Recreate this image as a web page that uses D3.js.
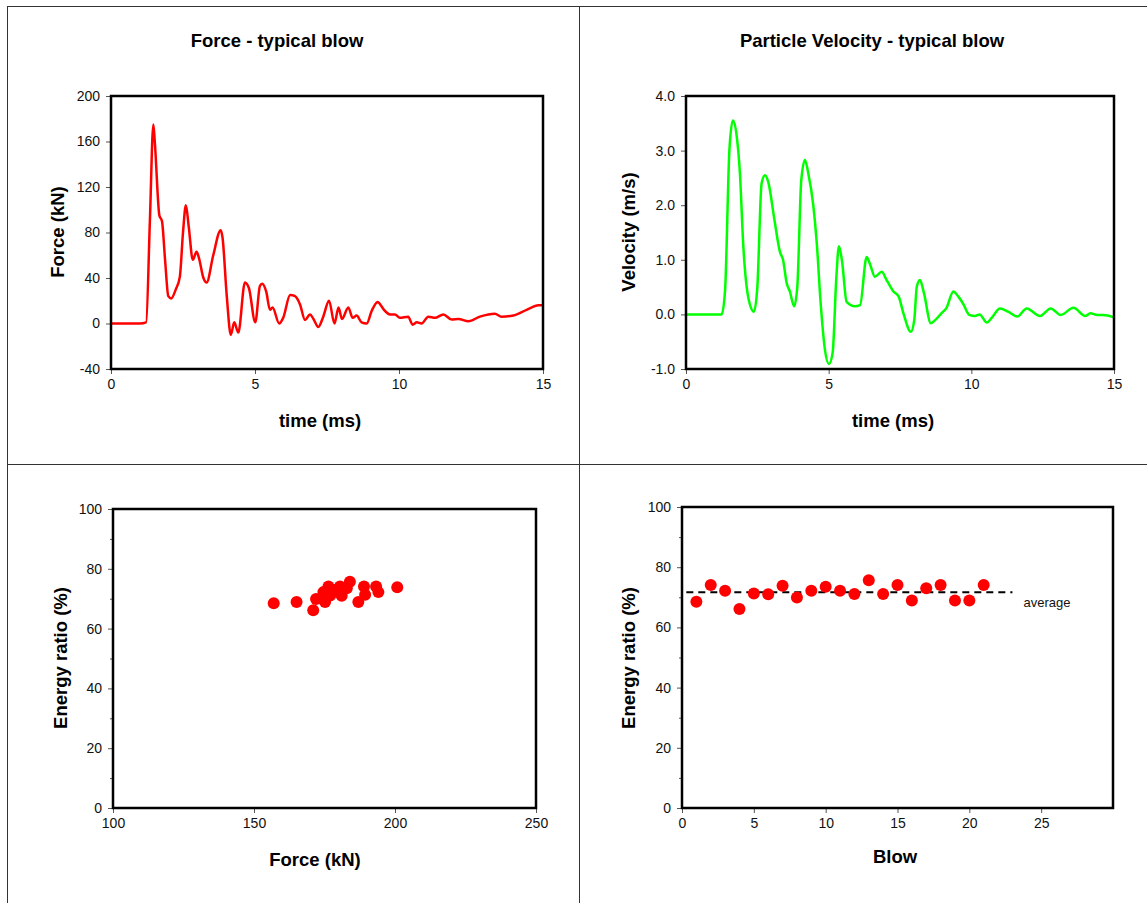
<!DOCTYPE html>
<html>
<head>
<meta charset="utf-8">
<script src="https://cdn.jsdelivr.net/npm/d3@7"></script>
<style>
body { margin: 0; background: #fff; }
text { font-family: "Liberation Sans", Arial, sans-serif; }
</style>
</head>
<body>
<script>
var width = 1147;
var height = 903;

// force - typical blow
var forceTime = [0,0.5,1.0,1.22,1.35,1.47,1.52,1.68,1.77,1.88,1.99,2.09,2.25,2.39,2.5,2.6,2.7,2.84,2.97,3.05,3.21,3.32,3.55,3.81,3.87,4.02,4.16,4.28,4.42,4.65,4.79,5.01,5.17,5.25,5.39,5.52,5.61,5.84,5.98,6.22,6.39,6.56,6.74,6.91,7.03,7.2,7.37,7.57,7.76,7.9,8.02,8.24,8.39,8.53,8.7,8.88,9.05,9.26,9.34,9.48,9.69,9.86,10.03,10.32,10.47,10.62,10.78,11.02,11.25,11.54,11.83,12.06,12.41,12.81,13.33,13.56,13.97,14.43,14.84,15];
var forceKN = [0,0,0,1,90,175,160,95,90,55,24,22,30,41,80,104,85,56,63,58,40,36,60,82,76,24,-10,1,-8,36,31,1,33,35,28,12,14,0,5,25,24,17,3,8,4,-3,6,20,0,14,4,14,5,7,1,0,11,19,17,12,8,8,5,6,-1,1,0,6,5,8,3.5,4,2,6,8.5,6,7,12,16,16];

// particle velocity - typical blow
var velTime = [0,0.6,1.25,1.37,1.52,1.64,1.78,1.89,2.01,2.18,2.38,2.5,2.65,2.77,2.88,3.1,3.29,3.4,3.53,3.64,3.79,3.9,4.04,4.17,4.28,4.46,4.58,4.72,4.87,5.01,5.14,5.27,5.36,5.47,5.63,5.92,6.1,6.33,6.45,6.62,6.86,7.03,7.27,7.45,7.62,7.88,8.0,8.09,8.2,8.34,8.58,8.74,8.95,9.13,9.37,9.54,9.72,9.93,10.13,10.29,10.54,10.72,11.0,11.29,11.61,11.94,12.41,12.78,13.13,13.58,13.99,14.17,14.42,14.63,14.98];
var velMS = [0,0,0,0.45,3.0,3.55,3.25,2.58,1.24,0.32,0.05,0.5,2.4,2.55,2.43,1.73,1.15,1.0,0.57,0.42,0.15,0.5,2.46,2.83,2.6,2.0,1.33,0.2,-0.65,-0.91,-0.7,0.69,1.25,0.97,0.23,0.15,0.17,1.05,0.92,0.69,0.78,0.63,0.42,0.33,0.02,-0.32,-0.1,0.51,0.63,0.39,-0.16,-0.1,0.02,0.12,0.42,0.33,0.19,-0.01,-0.03,0,-0.15,-0.06,0.11,0.05,-0.04,0.11,-0.03,0.11,-0.01,0.12,-0.03,0.02,-0.01,-0.01,-0.05];

// per blow results
var blows = [1,2,3,4,5,6,7,8,9,10,11,12,13,14,15,16,17,18,19,20,21];
var energyRatio = [68.5,74.1,72.2,66.1,71.3,71.0,73.8,69.9,72.2,73.5,72.2,71.1,75.7,71.1,74.1,68.9,73.0,74.1,68.9,68.9,74.1];
var blowForce = [157,176.4,194.1,171,189.4,181.1,200.8,172,178.1,182.9,174.6,175.5,184,177,189,165.1,179,193.3,175.2,187,180.5];

var forceTicks = [-40,0,40,80,120,160,200];
var velTicks = [-1,0,1,2,3,4];
var timeTicks = [0,5,10,15];
var energyTicks = [0,20,40,60,80,100];
var forceAxisTicks = [100,150,200,250];
var blowTicks = [0,5,10,15,20,25];

var svg = d3.select("body")
    .append("svg")
    .attr("width", width)
    .attr("height", height);

svg.append("rect")
    .attr("width", width)
    .attr("height", height)
    .attr("fill", "#fff");

// outer frame and dividers
var frame = svg.append("g")
    .attr("stroke", "#333")
    .attr("stroke-width", 1)
    .attr("fill", "none");
frame.append("rect").attr("x", 7.5).attr("y", 6.5).attr("width", 1160).attr("height", 920);
frame.append("line").attr("x1", 579.5).attr("x2", 579.5).attr("y1", 6).attr("y2", 903);
frame.append("line").attr("x1", 7).attr("x2", 1147).attr("y1", 464.5).attr("y2", 464.5);

// excel style numbers: plain hyphen for negatives
function numFmt(spec) {
    var f = d3.format(spec);
    return function(d) { return f(d).replace("\u2212", "-"); };
}

function creaPannello(box, xDom, yDom, xTicks, yTicks, yFmt, minor) {
    var x = d3.scaleLinear().domain(xDom).range([box.x0, box.x1]);
    var y = d3.scaleLinear().domain(yDom).range([box.y1, box.y0]);
    var g = svg.append("g");

    g.append("g")
        .attr("transform", "translate(0," + box.y1 + ")")
        .call(d3.axisBottom(x).tickValues(xTicks).tickSize(5).tickPadding(5).tickFormat(numFmt("d")));
    g.append("g")
        .attr("transform", "translate(" + box.x0 + ",0)")
        .call(d3.axisLeft(y).tickValues(yTicks).tickSize(5).tickPadding(6).tickFormat(yFmt));

    if (minor) {
        g.append("g")
            .attr("transform", "translate(" + box.x0 + ",0)")
            .call(d3.axisLeft(y).tickValues(minor).tickSize(3).tickFormat(""));
    }

    g.selectAll(".domain").remove();
    g.selectAll(".tick line").attr("stroke", "#555").attr("stroke-width", 1);
    g.selectAll(".tick text")
        .attr("font-size", 14)
        .attr("fill", "#111")
        .style("font-family", "'Liberation Sans', Arial, sans-serif");

    g.append("rect")
        .attr("x", box.x0)
        .attr("y", box.y0)
        .attr("width", box.x1 - box.x0)
        .attr("height", box.y1 - box.y0)
        .attr("fill", "none")
        .attr("stroke", "#000")
        .attr("stroke-width", 2.5);

    return {x: x, y: y, g: g};
}

function etichetta(testo, x, y, ruota) {
    var t = svg.append("text")
        .attr("x", x)
        .attr("y", y)
        .attr("text-anchor", "middle")
        .attr("font-size", 18.5)
        .attr("font-weight", "bold")
        .attr("fill", "#000")
        .text(testo);
    if (ruota) t.attr("transform", "rotate(-90," + x + "," + y + ")");
    return t;
}

// top-left: force
var p1 = creaPannello({x0: 111, x1: 543, y0: 96, y1: 369}, [0, 15], [-40, 200], timeTicks, forceTicks, numFmt("d"));
p1.g.insert("path", "rect")
    .datum(d3.range(forceTime.length))
    .attr("fill", "none")
    .attr("stroke", "#ff0000")
    .attr("stroke-width", 2.5)
    .attr("stroke-linejoin", "round")
    .attr("d", d3.line()
        .x(function(i) { return p1.x(forceTime[i]); })
        .y(function(i) { return p1.y(forceKN[i]); })
        .curve(d3.curveMonotoneX));
etichetta("Force - typical blow", 277, 47);
etichetta("time (ms)", 320, 427);
etichetta("Force (kN)", 63.5, 232, true);

// top-right: velocity
var p2 = creaPannello({x0: 686, x1: 1114, y0: 96, y1: 369}, [0, 15], [-1, 4], timeTicks, velTicks, numFmt(".1f"));
p2.g.insert("path", "rect")
    .datum(d3.range(velTime.length))
    .attr("fill", "none")
    .attr("stroke", "#00ff00")
    .attr("stroke-width", 2.5)
    .attr("stroke-linejoin", "round")
    .attr("d", d3.line()
        .x(function(i) { return p2.x(velTime[i]); })
        .y(function(i) { return p2.y(velMS[i]); })
        .curve(d3.curveMonotoneX));
etichetta("Particle Velocity - typical blow", 872, 47);
etichetta("time (ms)", 893, 427);
etichetta("Velocity (m/s)", 634.5, 232, true);

// bottom-left: energy ratio vs force
var minorE = [10,30,50,70,90];
var p3 = creaPannello({x0: 113, x1: 536, y0: 509, y1: 808}, [100, 250], [0, 100], forceAxisTicks, energyTicks, numFmt("d"), minorE);
p3.g.selectAll("circle.dot")
    .data(d3.range(blows.length))
    .enter()
    .append("circle")
    .attr("class", "dot")
    .attr("cx", function(i) { return p3.x(blowForce[i]); })
    .attr("cy", function(i) { return p3.y(energyRatio[i]); })
    .attr("r", 6)
    .attr("fill", "#ff0000");
etichetta("Force (kN)", 315, 866);
etichetta("Energy ratio (%)", 66.5, 658, true);

// bottom-right: energy ratio per blow
var p4 = creaPannello({x0: 682, x1: 1113, y0: 507, y1: 808}, [0, 30], [0, 100], blowTicks, energyTicks, numFmt("d"), minorE);
var media = d3.mean(energyRatio);
p4.g.append("line")
    .attr("x1", p4.x(0.3))
    .attr("x2", p4.x(23))
    .attr("y1", p4.y(media))
    .attr("y2", p4.y(media))
    .attr("stroke", "#000")
    .attr("stroke-width", 2)
    .attr("stroke-dasharray", "7,5");
p4.g.selectAll("circle.dot")
    .data(d3.range(blows.length))
    .enter()
    .append("circle")
    .attr("class", "dot")
    .attr("cx", function(i) { return p4.x(blows[i]); })
    .attr("cy", function(i) { return p4.y(energyRatio[i]); })
    .attr("r", 6)
    .attr("fill", "#ff0000");
svg.append("text")
    .attr("x", p4.x(23) + 11)
    .attr("y", p4.y(media) + 15)
    .attr("font-size", 13)
    .attr("fill", "#111")
    .text("average");
etichetta("Blow", 895, 863);
etichetta("Energy ratio (%)", 634.5, 658, true);
</script>
</body>
</html>
